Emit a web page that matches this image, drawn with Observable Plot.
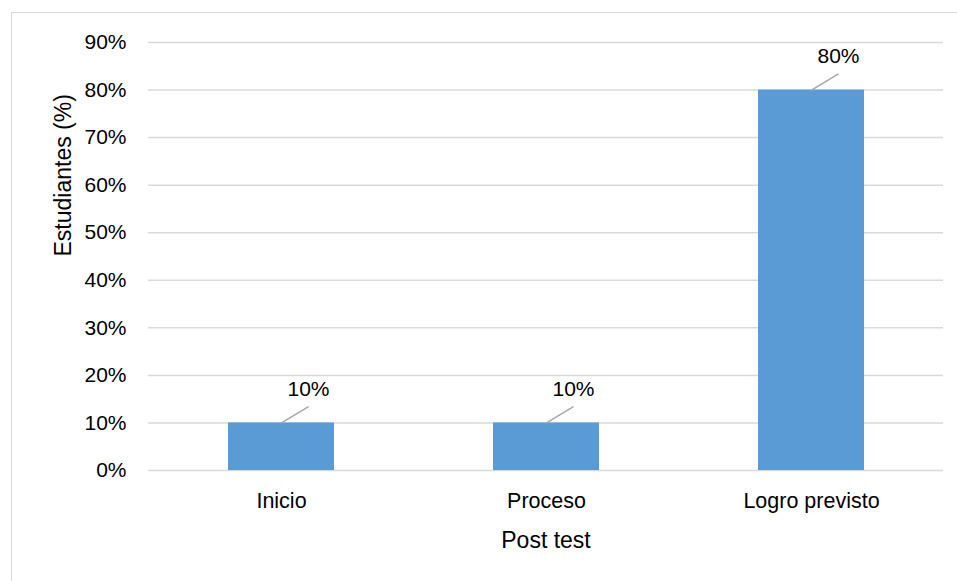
<!DOCTYPE html>
<html>
<head>
<meta charset="utf-8">
<script src="https://cdn.jsdelivr.net/npm/d3@7"></script>
<script src="https://cdn.jsdelivr.net/npm/@observablehq/plot@0.6"></script>
<style>
  html, body { margin: 0; padding: 0; background: #fff; }
  #wrap { position: relative; width: 957px; height: 581px; overflow: hidden; }
  #frame { position: absolute; left: 11px; top: 12px; width: 960px; height: 600px;
           border-top: 1.5px solid #d9d9d9; border-left: 1.5px solid #d9d9d9; pointer-events: none; }
  #chart { position: absolute; left: 0; top: 0; }
</style>
</head>
<body>
<div id="wrap"><div id="frame"></div><div id="chart"></div></div>
<script>
const categories = ["Inicio", "Proceso", "Logro previsto"];
const values = [0.10, 0.10, 0.80];
const yTicks = [0, 0.1, 0.2, 0.3, 0.4, 0.5, 0.6, 0.7, 0.8, 0.9];
const xLabel = "Post test";
const yLabel = "Estudiantes (%)";

const data = categories.map((c, i) => ({category: c, value: values[i]}));
const fmt = d3.format(".0%");
const font = "Liberation Sans, Arial, sans-serif";

const leader = {
  draw(context, l) {
    context.moveTo(0, 0);
    context.lineTo(0, -l);
  }
};

const chart = Plot.plot({
  width: 957,
  height: 581,
  marginLeft: 148,
  marginRight: 14,
  marginTop: 42,
  marginBottom: 111,
  style: {fontFamily: font, fontSize: "21px", color: "#000", background: "transparent"},
  x: {domain: categories, paddingInner: 0.6, paddingOuter: 0.3, label: null},
  y: {domain: [0, 0.9], label: null},
  marks: [
    Plot.gridY(yTicks, {stroke: "#d9d9d9", strokeOpacity: 1, strokeWidth: 1.5}),
    Plot.axisY(yTicks, {tickSize: 0, tickPadding: 22, tickFormat: fmt, fontSize: 21, label: null}),
    Plot.axisX({tickSize: 0, tickPadding: 22, fontSize: 21.5, label: null}),
    Plot.barY(data, {x: "category", y: "value", fill: "#5b9bd5"}),
    Plot.vector(data, {x: "category", y: "value", length: 31, rotate: 59, anchor: "start",
                       shape: leader, stroke: "#a6a6a6", strokeWidth: 1.5}),
    Plot.text(data, {x: "category", y: "value", text: d => fmt(d.value), dx: 27, dy: -34,
                     fontSize: 21, fill: "#000"}),
    Plot.text([xLabel], {frameAnchor: "bottom", lineAnchor: "middle", dy: 70, fontSize: 23, fill: "#000"}),
    Plot.text([yLabel], {frameAnchor: "left", dx: -85, rotate: -90, fontSize: 23, fill: "#000"})
  ]
});
document.getElementById("chart").appendChild(chart);
</script>
</body>
</html>
